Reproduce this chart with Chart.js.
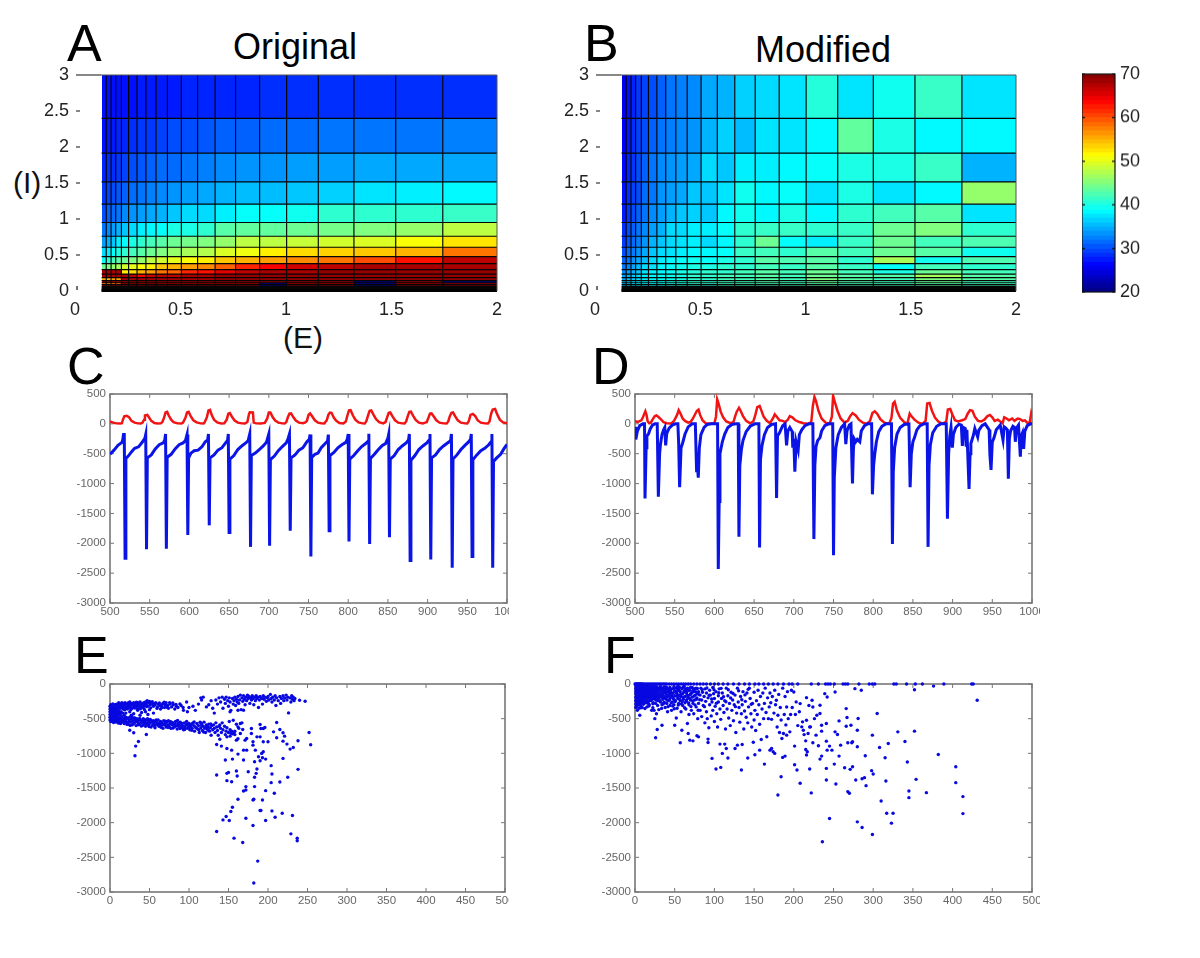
<!DOCTYPE html>
<html>
<head>
<meta charset="utf-8">
<title>Original vs Modified</title>
<script src="https://cdn.jsdelivr.net/npm/chart.js@4"></script>
<style>
  html, body { margin: 0; padding: 0; background: #fff; }
  body { position: relative; width: 1200px; height: 958px; overflow: hidden; font-family: "Liberation Sans", Arial, sans-serif; }
  canvas { position: absolute; }
  #chartC, #chartD, #chartE, #chartF { filter: blur(0.4px); }
  .t { position: absolute; line-height: 1; color: #000; white-space: nowrap; }
  .letter { font-size: 52px; }
  .title { font-size: 36px; }
  .axisname { font-size: 30px; color: #111; }
</style>
</head>
<body>
<div class="t letter" style="left:67px;top:17px">A</div>
<div class="t letter" style="left:584px;top:17px">B</div>
<div class="t letter" style="left:67px;top:340px">C</div>
<div class="t letter" style="left:592px;top:340px">D</div>
<div class="t letter" style="left:74px;top:629px">E</div>
<div class="t letter" style="left:604px;top:629px">F</div>
<div class="t title" style="left:233px;top:29px">Original</div>
<div class="t title" style="left:755px;top:32px">Modified</div>
<div class="t axisname" style="left:13px;top:168px">(I)</div>
<div class="t axisname" style="left:283px;top:323px">(E)</div>
<canvas id="chartA"></canvas>
<canvas id="chartB"></canvas>
<canvas id="chartBar"></canvas>
<canvas id="chartC"></canvas>
<canvas id="chartD"></canvas>
<canvas id="chartE"></canvas>
<canvas id="chartF"></canvas>
<script>
// cell edges of the two maps
const eEdges = [0.126,0.148,0.171,0.193,0.22,0.254,0.294,0.336,0.384,0.438,0.504,0.581,0.664,0.761,0.875,1.003,1.153,1.322,1.52,1.743,2];
const iEdges = [3,2.397,1.915,1.516,1.206,0.951,0.76,0.607,0.478,0.38,0.297,0.235,0.185,0.145,0.115,0.09,0.07,0.055,0.04,0.03,0.02,0];

// rate values, top row first
const originalMap = [
  [27,27,27,27,27,27,27.5,27.5,27.5,27.5,28,28,28,28,28.5,28.5,28.5,28.5,28.5,28.5],
  [27,27.5,27.5,28,28,28.5,29,29,29.5,30,30,30.5,31,31,31.5,31.5,32,32,32,32.5],
  [28,28.5,28.5,29,29.5,30,30.5,31,31.5,31.5,32,32.5,33,33.5,33.5,34,34,34.5,34.5,34.5],
  [29,29.5,30,30.5,31,31.5,32,32.5,33,33.5,34,34.5,35,35.5,35.5,36,36.5,37.5,38,38.5],
  [30,31,31.5,32,33,33.5,34,34.5,35,36,37,37,38,39,39,39.5,41,41,41,41.5],
  [32,33,34,35,36,37,38,38.5,39,40,40,41,43,43.5,43.5,44,44.5,45,46,48],
  [34,35,36,38,39,40,41,42,43,44,44.5,45,46,48,48,48.5,49,49.5,51,52.5],
  [37,38,39,40,41,42,43,44,45,46,47,47.5,49.5,50.5,52,53,53.5,54,55,58],
  [39,41,42,43,44,45,46,48,49,50,51,52,54,55,56,57,58,60,63,67],
  [44,45,46,47,49,50,51,52,54,55,56,57,59,62,64,66,67,68,68,68],
  [68,68,68,68,52,53,55,56,58,59,62,63,65,67,68,68,69,69,69,69],
  [68,68,68,68,68,67,64,66,67,67,68,68,69,69,69,69,69,69,69,69],
  [55,55,56,56,68,68,68,68,68,68,68,68,69,69,69,69,69,69,69,69],
  [68,68,68,68,69,69,69,69,69,69,69,69,69,69,69,69,69,20,69,20],
  [57,57,58,58,69,69,69,69,69,69,69,69,69,69,20,69,69,20,69,69],
  [69,69,69,69,69,69,69,69,69,69,69,69,69,69,20,69,69,20,69,69],
  [58,58,60,60,69,69,69,69,69,69,69,69,69,69,20,69,69,69,69,69],
  [69,69,69,69,69,69,69,69,69,69,69,69,69,69,69,69,69,69,69,69],
  [69,69,69,69,69,69,69,69,69,69,69,69,69,69,69,69,69,69,69,69],
  [70,70,70,70,70,70,70,70,70,70,70,70,70,70,70,70,70,70,70,70],
  [70,70,70,70,70,70,70,70,70,70,70,70,70,70,70,70,70,70,70,70]
];
const modifiedMap = [
  [25.5,27,28,29,29.5,30,31,32,32.5,33,34.5,35,36.5,37,37.5,40.5,37.5,39.5,41.5,37.5],
  [26,27.5,28.5,29.5,30,31,32,32.5,33,33.5,35,36.5,35.5,37.5,37.5,38.5,43.5,40,38.5,38.5],
  [26.5,28,29,30,31,32,33,33.5,34,34.5,37,36,38,38,38.5,39,40,40,41.5,35],
  [27,28.5,29.5,30,31.5,32,33.5,34,34.5,36,36,37.5,39.5,38.5,39,37.5,40,37.5,38.5,46],
  [27.5,29,30,31,32,33,34,35,36,36.5,36,38.5,39.5,38.5,40,38.5,41,42,43,37.5],
  [28.5,30,31,32,33,34,35,37,37,38,38,39,41,41.5,41.5,41,41.5,44,45,41],
  [29,30.5,31.5,32.5,33.5,35,36,37,37.5,38,37,38.5,41,44,39,38,41.5,44,42,42.5],
  [30,31.5,32.5,33.5,34.5,36,37,37.5,38,38.5,38.5,39,41.5,42,41,43,42,44,43,39.5],
  [31,32,33.5,34.5,35.5,37,38,38.5,39,39.5,39,40,41,43,42.5,43,41,47,39.5,42.5],
  [32,33,34.5,35.5,37,37.5,38.5,39,39.5,40,40,41,41,42,41.5,43,41.5,39,42,41],
  [33,34,35,36,37.5,38,38.5,39,40,40.5,41,41,42,43,42,44,42,40,44,42],
  [34,35,36,37,38,38.5,39,39.5,40,41,41,42,42,43,42,44,43,43,47,43],
  [34.5,35.5,36.5,37,38,38.5,39,39.5,40,41,41,42,42,43,42,45,43,42,45,43],
  [35,36,37,37.5,38,38.5,39,40,40,41,41,42,42,43,42,44,43,42,44,42],
  [35,36,37,38,38.5,39,39.5,40,40.5,41,41,42,42,42,42,43,42,42,43,42],
  [35.5,36.5,37,38,38.5,39,39.5,40,40.5,41,41,41.5,42,42,42,43,42,42,43,42],
  [36,37,37.5,38,38.5,39,40,40,41,41,41,41.5,42,42,42,42,42,42,42,42],
  [36,37,37.5,38,39,39,40,40,41,41,41,41.5,42,42,42,42,42,42,42,42],
  [36,37,38,38,39,39,40,40,41,41,41,41.5,42,42,42,42,42,42,42,42],
  [36,37,38,38,39,39,40,40,41,41,41,41.5,42,42,42,42,42,42,42,42],
  [36,37,38,38,39,39,40,40,41,41,41,41.5,42,42,42,42,42,42,42,42]
];

// colour bar
const barEdges = [70,69,68,67,66,65,64,63,62,61,60,59,58,57,56,55,54,53,52,51,50,49,48,47,46,45,44,43,42,41,40,39,38,37,36,35,34,33,32,31,30,29,28,27,26,25,24,23,22,21,20];
const barLevels = [69.5,68.5,67.5,66.5,65.5,64.5,63.5,62.5,61.5,60.5,59.5,58.5,57.5,56.5,55.5,54.5,53.5,52.5,51.5,50.5,49.5,48.5,47.5,46.5,45.5,44.5,43.5,42.5,41.5,40.5,39.5,38.5,37.5,36.5,35.5,34.5,33.5,32.5,31.5,30.5,29.5,28.5,27.5,26.5,25.5,24.5,23.5,22.5,21.5,20.5];

// panel C traces
const originalBlue = [
  [500,-510],[505,-440],[510,-360],[515,-310],[516,-270],[517,-180],[518,-180],[519,-2250],[520,-580],[523,-540],[527,-470],[531,-410],[536,-385],[541,-300],[544,-240],[545,-180],[546,-2100],[547,-570],[552,-520],[557,-420],[562,-350],[567,-320],[569,-270],[570,-170],[571,-2090],[572,-560],[577,-510],[582,-420],[587,-350],[592,-320],[595,-280],[597,-180],
  [598,-1860],[599,-570],[602,-490],[606,-450],[611,-440],[616,-380],[620,-300],[623,-270],[624,-170],[625,-1700],[626,-570],[631,-520],[636,-440],[641,-400],[646,-310],[648,-280],[649,-170],[650,-1820],[651,-590],[656,-530],[661,-430],[666,-370],[671,-320],[674,-280],[676,-170],[677,-2060],[678,-530],[683,-490],[688,-430],[693,-370],[697,-310],[700,-170],
  [701,-2040],[702,-600],[707,-540],[712,-450],[717,-380],[722,-320],[724,-260],[726,-170],[727,-1790],[728,-570],[733,-520],[738,-440],[743,-400],[748,-300],[751,-260],[752,-180],[753,-2220],[754,-560],[758,-510],[762,-490],[766,-400],[771,-330],[774,-290],[775,-180],[776,-1790],[777,-530],[782,-480],[787,-400],[792,-350],[797,-310],[799,-250],[800,-170],
  [801,-1970],[802,-590],[807,-530],[812,-450],[817,-380],[822,-330],[825,-290],[826,-165],[827,-2010],[828,-580],[833,-510],[838,-430],[843,-360],[847,-330],[850,-240],[851,-175],[852,-1900],[853,-590],[858,-530],[863,-430],[868,-370],[873,-320],[876,-270],[877,-170],[878,-2290],[879,-610],[884,-530],[889,-430],[894,-370],[899,-320],[902,-270],[903,-170],
  [904,-2270],[905,-570],[910,-520],[915,-430],[920,-370],[925,-320],[929,-280],[930,-170],[931,-2410],[932,-590],[937,-520],[942,-430],[947,-360],[951,-310],[954,-260],[955,-170],[956,-2220],[957,-600],[962,-520],[967,-450],[972,-410],[977,-350],[980,-300],[981,-170],[982,-2410],[983,-630],[987,-570],[992,-510],[996,-420],[1000,-345]
];
const originalRed = [
  [500,40],[504,20],[508,8],[513,5],[515,10],[516,60],[518,125],[521,135],[524,110],[527,50],[531,20],[535,8],[539,5],[541,20],[543,70],[544,140],[547,150],[549,110],[552,50],[556,15],[560,5],[564,8],[566,30],[568,100],[570,190],[572,200],[574,140],[577,70],[580,30],[585,8],[590,5],
  [592,20],[595,100],[597,190],[599,200],[602,120],[605,60],[609,25],[614,8],[618,5],[619,20],[622,110],[624,225],[626,235],[628,150],[631,70],[635,25],[640,8],[644,10],[647,70],[649,170],[651,180],[654,110],[657,55],[661,20],[666,8],[670,5],[673,30],[675,160],[676,195],[680,190],[681,20],[684,8],[690,5],
  [695,15],[698,90],[700,190],[702,190],[705,110],[708,55],[712,20],[717,8],[720,5],[722,30],[724,110],[726,170],[728,175],[731,110],[734,55],[738,20],[743,10],[746,25],[748,50],[750,150],[752,175],[755,120],[758,60],[762,20],[766,10],[770,8],[773,60],[775,150],[777,190],[779,185],[782,100],[785,50],[789,15],[794,8],
  [797,40],[799,140],[801,225],[803,230],[806,140],[809,70],[813,25],[818,8],[821,5],[823,50],[825,140],[827,220],[829,225],[832,150],[835,80],[839,30],[844,8],[847,30],[849,110],[851,185],[853,190],[856,120],[859,60],[863,20],[868,8],[871,5],[873,40],[875,130],[877,200],[879,205],[882,130],[885,65],[889,20],[894,8],
  [899,30],[901,100],[903,170],[905,175],[908,120],[911,60],[915,20],[920,8],[924,5],[926,40],[928,130],[930,185],[932,190],[935,120],[938,60],[942,20],[947,8],[950,5],[952,50],[954,150],[957,165],[960,130],[963,60],[967,20],[972,8],[976,5],[978,40],[980,170],[982,240],[985,250],[988,150],[991,70],[995,25],[1000,8]
];

// panel D traces
const modifiedBlue = [
  [500,-50],[501,-260],[503,-120],[506,-30],[510,0],[512,0],[512.6,-1250],[514,-400],[515,-200],[517,-170],[519,-90],[522,-20],[525,0],[528,0],[529.4,-1220],[531,-500],[532,-350],[534,-180],[536,-100],[537.5,-60],[538.6,-360],[540,-160],[543,-70],[547,-20],[551,0],[554,0],[555,-330],[556.2,-1060],[558,-400],[560,-320],[563,-170],[567,-50],[572,0],[576,0],
  [577.6,-810],[578.6,-700],[579.7,-900],[581,-400],[583,-180],[587,-60],[591,-10],[596,0],[604,0],[604.9,-2430],[606,-1300],[607,-500],[610,-300],[613,-170],[617,-60],[622,-10],[627,0],[630,0],[630.9,-1890],[632,-700],[634,-430],[636,-280],[640,-130],[645,-40],[651,0],[656,0],[656.9,-2070],[658,-600],[660,-360],[663,-180],[667,-60],[672,-10],[677,0],
  [678.3,-1240],[679.5,-200],[682,-150],[686,-30],[689,0],[690.9,-360],[692.5,-120],[695,-60],[698,-130],[698.7,-400],[700,-250],[701.3,-800],[703,-300],[705.5,-440],[707,-180],[710,-100],[714,-30],[719,0],[724,0],[725.3,-1930],[726.5,-700],[728,-380],[730,-280],[733,-230],[735,-120],[739,-30],[744,0],[749,0],[750,-2200],[751,-900],[753,-400],[756,-180],[760,-60],[764,0],
  [765.5,-340],[767,-120],[770,-20],[772,0],[773.9,-1000],[775,-450],[776,-250],[778,-300],[780,-260],[783.1,-300],[785,-120],[789,-30],[793,0],[798,0],[799,-1180],[800.5,-700],[802,-500],[804,-300],[807,-130],[811,-40],[816,0],[823,0],[824.2,-2010],[825.3,-800],[827,-400],[830,-170],[834,-60],[839,-10],[845,0],[846.5,-1060],[848,-500],[850,-300],[852,-230],[855,-100],[859,-30],[864,0],[868,0],
  [869.1,-2060],[870.3,-700],[872,-350],[875,-150],[880,-40],[885,0],[892,0],[893.5,-1590],[895,-500],[896.5,-200],[898,-60],[899.7,-400],[901,-180],[904,-60],[908,-5],[911,-20],[912.3,-370],[913.5,-60],[916,-80],[917,-360],[918,-100],[920.7,-1090],[922,-500],[923,-330],[926,-200],[928,-80],[931.6,-220],[933,-110],[937,-30],[941,0],[946,-100],[947,-520],[948.4,-770],[950,-300],[952,-240],[955,-100],[960,-20],
  [963.5,-270],[965,-50],[967,-70],[969,-100],[970.2,-920],[971.5,-250],[973,-120],[976,-40],[978,-60],[979,-300],[980.5,-70],[983,-20],[985.3,-550],[986.5,-200],[988,-150],[989.5,-420],[991,-120],[994,-30],[998,0],[1000,0]
];
const modifiedRed = [
  [500,50],[503,30],[505,40],[508,60],[510,110],[512,180],[513,210],[514.5,150],[516,40],[518,10],[520,20],[522,70],[525,130],[527,140],[530,110],[533,70],[536,30],[540,10],[545,5],[548,30],[550,70],[553,150],[555,230],[557,180],[560,90],[563,50],[567,20],[570,30],[573,90],[576,170],[578,220],[580,240],[582,150],[585,60],[589,10],[595,0],
  [600,10],[602,120],[603.5,410],[605,350],[608,200],[611,110],[615,40],[620,10],[624,30],[626,120],[628,200],[631,270],[633,220],[636,130],[640,50],[645,10],[649,40],[651,120],[654,280],[657,300],[659,230],[662,120],[666,50],[670,10],[674,100],[676,160],[679,110],[682,60],[686,50],[689,30],[692,60],[695,130],[698,110],[702,60],[707,30],[712,10],[718,0],
  [722,30],[724,300],[726,450],[728,380],[731,220],[735,90],[740,20],[745,0],[748,120],[749.5,470],[752,350],[755,220],[759,90],[764,20],[768,50],[771,130],[774,180],[778,140],[782,70],[787,20],[792,0],[796,50],[799,180],[802,210],[805,170],[809,80],[814,20],[820,0],[823,100],[825,340],[827,370],[830,220],[834,100],[839,30],[843,0],
  [846,170],[848,130],[852,70],[857,20],[862,0],[866,50],[868,340],[871,350],[874,220],[878,100],[882,40],[887,0],[892,40],[894,240],[897,250],[900,150],[903,60],[907,40],[912,60],[916,80],[919,170],[922,230],[925,220],[928,120],[932,50],[936,40],[940,70],[944,130],[947,150],[950,110],[953,50],[957,70],[960,40],[963,10],[965,110],[968,90],[971,60],[975,90],[978,50],[982,90],[985,80],[988,50],[991,60],[994,20],[997,20],[999,180],[1000,130]
];

// panel E points
const originalScatter = [
  [5,-340],[6,-300],[7,-360],[8,-290],[9,-330],[10,-300],[10,-360],[11,-270],[12,-320],[13,-290],[13,-350],[14,-310],[15,-270],[16,-330],[17,-290],[17,-360],[18,-310],[19,-270],[20,-340],[21,-300],[22,-280],[22,-360],[23,-320],[24,-290],[25,-260],[25,-340],[26,-310],[27,-280],[28,-350],[29,-300],[30,-270],[30,-330],[31,-310],[32,-280],[33,-340],[34,-300],[35,-270],[35,-360],[36,-320],[37,-290],[38,-260],[39,-330],[40,-300],[41,-280],[42,-340],[43,-270],[44,-310],[45,-260],[46,-290],[47,-240],[48,-320],[49,-270],[50,-250],[51,-300],[52,-270],[54,-290],[55,-320],[57,-300],[58,-270],[60,-330],[61,-290],[63,-310],[64,-360],[66,-300],[67,-280],[69,-340],[70,-300],[71,-270],[73,-310],[74,-350],[76,-290],[78,-330],[80,-300],[82,-360],[84,-320],[86,-340],[90,-310],[93,-380],[97,-260],[98,-400],[100,-340],
  [20,-420],[25,-400],[30,-430],[35,-380],[40,-410],[45,-400],[50,-370],[27,-450],[38,-450],[48,-440],[55,-420],
  [0,-320],[0,-360],[0,-400],[0,-440],[0,-480],[0,-520],[1,-300],[1,-340],[1,-380],[1,-420],[1,-460],[1,-500],[1,-540],[2,-320],[2,-360],[2,-400],[2,-440],[2,-480],[2,-520],[3,-340],[3,-380],[3,-420],[3,-460],[3,-500],[3,-540],[4,-360],[4,-400],[4,-440],[4,-480],[4,-520],[5,-380],[5,-420],[5,-460],[5,-500],[6,-400],[6,-440],[6,-480],[6,-530],[7,-420],[7,-460],[7,-510],[8,-390],[8,-440],[8,-490],[8,-540],[9,-410],[9,-470],[9,-520],[10,-430],[10,-500],[11,-390],[11,-450],[11,-530],[12,-410],[12,-490],[13,-440],[13,-520],[14,-400],[15,-470],[15,-540],[16,-420],[17,-500],[18,-450],[19,-530],[20,-480],
  [12,-560],[14,-490],[16,-530],[18,-570],[20,-510],[21,-550],[22,-490],[23,-580],[24,-520],[25,-480],[26,-550],[27,-510],[28,-590],[29,-530],[30,-490],[31,-560],[32,-520],[33,-600],[34,-500],[35,-550],[36,-530],[37,-580],[38,-510],[39,-560],[40,-530],[41,-600],[42,-500],[43,-570],[44,-540],[45,-610],[46,-520],[47,-560],[48,-590],[49,-530],[50,-570],[51,-510],[52,-620],[53,-550],[54,-590],[55,-530],[56,-570],[57,-630],[58,-540],[59,-590],[60,-560],[61,-520],[62,-610],[63,-570],[64,-540],[65,-600],[66,-560],[67,-640],[68,-530],[69,-590],[70,-570],[71,-620],[72,-550],[73,-590],[74,-530],[75,-610],[76,-570],[77,-640],[78,-550],[79,-590],[80,-560],[81,-620],[82,-580],[83,-540],[84,-600],[85,-650],[86,-570],[87,-610],[88,-590],[89,-550],[90,-630],[91,-570],[92,-600],[93,-660],[94,-560],[95,-620],[96,-590],[97,-540],[98,-640],[99,-600],[100,-570],[101,-660],[102,-610],[103,-580],[104,-640],[105,-560],[106,-600],[107,-680],[108,-620],[110,-570],[111,-650],[112,-600],[113,-700],[114,-550],[115,-630],[116,-590],[117,-670],[118,-610],[119,-550],[120,-640],[121,-700],[122,-590],[123,-650],[124,-620],[125,-580],[126,-680],[127,-630],[128,-740],[129,-600],[130,-660],[131,-590],[132,-640],[133,-700],[134,-560],[135,-620],[136,-670],[137,-740],[138,-610],[139,-590],[140,-640],[141,-700],[142,-560],[143,-660],[145,-610],[146,-730],[147,-680],[148,-630],[150,-700],[151,-540],[152,-660],[153,-710],[154,-680],[155,-720],[157,-700],[158,-730],[160,-580],[163,-640],
  [105,-320],[108,-380],[112,-290],[115,-200],[116,-230],[118,-190],[122,-330],[125,-300],[128,-240],[130,-350],[132,-420],[134,-230],[136,-290],[138,-200],[140,-260],[142,-190],[143,-350],[145,-220],[146,-280],[147,-190],[149,-240],[150,-320],[151,-200],[152,-260],[153,-380],[155,-210],[156,-290],[157,-240],[158,-190],[159,-310],[160,-220],[161,-260],[162,-180],[163,-280],[164,-230],[165,-160],[166,-370],[167,-200],[168,-250],[169,-170],[170,-220],[171,-300],[172,-190],[173,-240],[174,-160],[175,-210],[176,-180],[177,-280],[178,-200],[179,-230],[180,-170],[181,-210],[182,-300],[183,-190],[184,-240],[185,-170],[186,-210],[187,-190],[188,-340],[189,-230],[190,-180],[192,-210],[193,-290],[194,-170],[195,-220],[196,-190],[198,-250],[199,-200],[200,-180],[201,-230],[203,-150],[204,-210],[205,-260],[206,-190],[208,-230],[209,-170],[210,-310],[211,-200],[213,-240],[215,-180],[216,-280],[217,-210],[219,-170],[220,-240],[221,-200],[223,-160],[224,-230],[225,-190],[226,-417],[228,-200],[229,-260],[230,-170],[231,-220],[232,-190],[233,-240],[234,-210],[240,-235],[247,-249],[169,-378],[162,-378],[152,-402],
  [32.5,-896],[36,-829],[31.6,-1035],[46,-728],[30,-704],[25,-666],[135,-1313],[148,-1289],[150,-1275],[148,-1394],[154,-1409],[160,-1255],[161,-1327],[146,-1097],[155,-1083],[162,-1011],[169,-1097],[175,-1265],[183,-1121],[186,-1227],[185,-1289],[183,-1346],[172,-1480],[172,-1528],[169,-1543],[183,-1480],[197,-1538],[208,-1576],[162,-1663],[181,-1672],[182,-1663],[193,-1672],[155,-1778],[153,-1840],[147,-1912],[143,-1960],[151,-1969],[172,-1936],[190,-1825],[191,-1825],[205,-1830],[209,-1921],[197,-1969],[218,-1864],[231,-1897],[181,-2041],[135,-2127],[157,-2223],[168,-2285],[229,-2161],[237,-2223],[237,-2261],[187,-2554],[182,-2870],[238,-1231],[225,-1346],[215,-1413],[204,-1423],[205,-1298],[204,-1178],[197,-1083],[193,-1063],[188,-1049],[190,-1107],[219,-1073],[194,-977],[192,-1001],[219,-824],[224,-867],[228,-939],[232,-915],[238,-819],[252,-700],[254,-877],[207,-690],[211,-556],[215,-656],[211,-776],[219,-704],[221,-752],[190,-585],[194,-642],[191,-642],[196,-628],[179,-642],[179,-714],[186,-762],[190,-762],[200,-834],[194,-834],[181,-834],[173,-786],[171,-810],[184,-954],[173,-954],[169,-954],[181,-882],[162,-790],[160,-810],[154,-954],[148,-930],[141,-896],[135,-872],[139,-796],[148,-762],[152,-752],[158,-680],[165,-714],[168,-656],[162,-618],[156,-522],[165,-570],[167,-560]
];
// denser parts of the two bands in panel E
const originalBands = [
  [3.5,-287],[6.5,-318],[8.5,-351],[11.5,-304],[14.5,-343],[16.5,-283],[18.5,-372],[21.5,-329],[23.5,-268],[26.5,-367],[28.5,-296],[31.5,-347],[33.5,-262],[36.5,-294],[38.5,-356],[41.5,-313],[43.5,-366],[46.5,-327],[48.5,-261],[51.5,-344],[53.5,-256],[56.5,-279],[59.5,-352],[62.5,-274],[65.5,-338],[68.5,-263],[72.5,-336],[75.5,-268],[79.5,-273],[83.5,-295],[88.5,-287],[92.5,-338],
  [4.5,-557],[7.5,-549],[10.5,-562],[13.5,-571],[15.5,-503],[17.5,-553],[19.5,-491],[21.5,-583],[23.5,-549],[25.5,-597],[27.5,-476],[29.5,-573],[31.5,-491],[33.5,-538],[35.5,-587],[37.5,-497],[39.5,-607],[41.5,-548],[43.5,-512],[45.5,-568],[47.5,-502],[49.5,-613],[52.5,-528],[55.5,-603],[58.5,-517],[61.5,-577],[64.5,-623],[67.5,-586],[70.5,-536],[73.5,-627],[76.5,-544],[79.5,-637],[82.5,-611],[85.5,-527],[88.5,-643],[91.5,-627],[94.5,-657],[97.5,-583],[100.5,-623],[103.5,-667],[106.5,-547],[109.5,-637],[112.5,-658],[115.5,-567],[118.5,-693],[121.5,-617],[124.5,-668],[127.5,-577]
];

// panel F points
const modifiedScatter = [
  [0,0],[1,0],[2,0],[3,0],[4,0],[5,0],[6,0],[7,0],[8,0],[9,0],[10,0],[12,0],[14,0],[16,0],[18,0],[20,0],[22,0],[24,0],[26,0],[28,0],[30,0],[32,0],[34,0],[36,0],[38,0],[40,0],[43,0],[46,0],[49,0],[52,0],[55,0],[58,0],[61,0],[64,0],[67,0],[70,0],[74,0],[78,0],[82,0],[86,0],[90,0],[95,0],[100,0],[105,0],[111,0],[117,0],[124,0],[131,0],[138,0],[144,0],[151,0],[156,0],[162,0],[168,0],[174,0],[180,0],[187,0],[194,0],[198,0],[205,0],[222,0],[231,0],[240,0],[243,0],[246,0],[251,0],[262,0],[265,0],[268,0],[282,0],[295,0],[299,0],[302,0],[326,0],[329,0],[342,0],[353,0],[362,0],[389,0],[424,0],[426,0],
  [1,-20],[1,-60],[1,-100],[1,-140],[1,-190],[1,-240],[1,-290],[1,-340],[2,-40],[2,-80],[2,-120],[2,-170],[2,-220],[2,-270],[2,-320],[3,-30],[3,-70],[3,-110],[3,-150],[3,-210],[3,-260],[3,-380],[4,-50],[4,-90],[4,-130],[4,-180],[4,-240],[4,-300],[5,-30],[5,-70],[5,-110],[5,-160],[5,-200],[5,-280],[5,-350],[6,-50],[6,-90],[6,-130],[6,-190],[6,-250],[6,-450],[7,-30],[7,-80],[7,-120],[7,-170],[7,-230],[7,-310],[8,-50],[8,-100],[8,-150],[8,-210],[8,-270],[9,-30],[9,-70],[9,-130],[9,-180],[9,-250],[9,-340],
  [10,-50],[10,-100],[10,-160],[10,-220],[11,-30],[11,-80],[11,-130],[11,-190],[11,-280],[12,-60],[12,-110],[12,-170],[12,-240],[13,-40],[13,-90],[13,-150],[13,-210],[14,-70],[14,-130],[14,-190],[14,-270],[15,-40],[15,-100],[15,-160],[15,-330],[16,-70],[16,-130],[16,-210],[17,-40],[17,-100],[17,-170],[17,-250],[18,-70],[18,-140],[18,-300],[19,-40],[19,-110],[19,-190],[20,-80],[20,-150],[20,-240],[21,-40],[21,-110],[21,-180],[21,-380],[22,-70],[22,-140],[22,-220],[23,-40],[23,-110],[23,-270],[24,-80],[24,-170],[24,-380],[25,-40],[25,-120],[25,-210],[25,-500],[26,-80],[26,-150],[26,-280],[26,-776],[27,-40],[27,-190],[27,-430],[28,-100],[28,-170],[28,-656],[29,-60],[29,-240],[30,-130],[30,-200],[30,-370],[31,-70],[31,-160],[32,-40],[32,-260],[33,-110],[33,-190],[34,-70],[34,-594],[34,-300],[35,-150],[35,-220],[36,-50],[36,-110],[37,-180],[37,-270],[38,-80],[38,-340],[39,-140],[39,-210],[40,-50],[40,-110],[40,-280],[41,-180],[41,-400],[42,-80],[42,-240],[43,-140],[44,-50],[44,-200],[44,-310],[45,-110],[46,-170],[46,-380],[47,-70],[47,-260],[48,-130],[48,-210],[49,-40],[49,-300],[50,-594],[50,-100],[50,-170],[51,-240],[52,-60],[52,-490],[53,-140],[53,-350],[54,-80],[54,-210],[55,-170],[55,-280],[56,-50],[57,-848],[57,-110],[57,-240],[58,-180],[58,-400],[59,-666],[59,-70],[60,-140],[60,-310],[61,-220],[62,-40],[62,-100],[63,-180],[63,-270],[64,-360],[65,-130],[65,-230],[66,-570],[66,-60],[67,-714],[67,-170],[68,-300],[68,-440],[69,-810],[69,-90],[70,-230],[70,-140],[71,-380],[72,-50],[72,-190],[73,-820],[73,-280],[74,-110],[74,-430],[75,-230],[76,-160],[77,-60],[77,-330],[78,-747],[78,-200],[79,-500],[80,-762],[80,-110],[80,-280],[82,-160],[82,-380],[83,-60],[84,-230],[84,-470],[85,-120],[86,-310],[87,-180],[88,-560],[88,-70],[89,-250],[90,-400],[90,-130],[91,-500],[92,-843],[92,-795],[92,-200],[93,-630],[94,-90],[94,-300],[95,-160],[96,-460],[97,-1073],[97,-260],[98,-50],[98,-380],[99,-140],[100,-210],[100,-540],[101,-320],[102,-1227],[102,-110],[103,-430],[104,-620],[105,-170],[105,-260],[106,-70],[107,-867],[107,-360],[108,-1203],[108,-510],[109,-210],[110,-1001],[110,-130],[111,-310],[112,-410],[113,-867],[113,-240],[114,-650],[115,-930],[115,-60],[116,-360],[117,-1068],[117,-170],[118,-490],[119,-280],[120,-600],[121,-120],[122,-380],[123,-230],[124,-530],[125,-300],[126,-930],[126,-160],[127,-700],[128,-420],[129,-882],[129,-60],[130,-260],[131,-340],[132,-550],[133,-180],[134,-1241],[134,-430],[135,-872],[135,-300],[136,-110],[137,-650],[138,-390],[139,-250],[140,-480],[141,-130],[142,-1068],[142,-560],[143,-330],[144,-60],[145,-210],[146,-430],[147,-620],[148,-280],[149,-840],[150,-120],[150,-520],[151,-1020],[151,-380],[152,-670],[153,-240],[154,-440],[155,-90],[156,-300],[157,-954],[157,-580],[158,-180],[159,-800],[160,-360],[161,-130],[162,-500],[163,-1155],[163,-280],[164,-60],[165,-410],[166,-760],[167,-200],[168,-500],[169,-330],[170,-954],[170,-130],[171,-270],[172,-930],[172,-510],[173,-180],[174,-977],[175,-420],[176,-1001],[176,-90],[177,-300],[178,-235],[179,-620],[180,-1600],[180,-450],[181,-150],[182,-700],[183,-340],[184,-1337],[184,-520],[185,-786],[186,-1059],[186,-60],[187,-714],[188,-440],[189,-1040],[189,-180],[190,-590],[191,-738],[191,-331],[192,-110],[193,-500],[195,-690],[196,-440],[197,-91],[198,-340],[200,-115],[201,-1164],[201,-896],[202,-440],[203,-258],[204,-1241],[205,-600],[207,-400],[208,-1432],[208,-283],[210,-618],[211,-546],[212,-666],[213,-730],[215,-820],[215,-944],[216,-1025],[216,-197],[216,-522],[217,-977],[218,-714],[219,-310],[220,-1227],[220,-620],[221,-618],[222,-1571],[223,-235],[224,-848],[224,-331],[226,-500],[228,-738],[229,-450],[231,-891],[233,-1083],[233,-426],[233,-307],[235,-594],[235,-680],[235,-1040],[236,-2276],[239,-139],[241,-824],[241,-1217],[241,-1385],[241,-570],[242,-954],[242,-187],[245,-1940],[245,-896],[248,-954],[251,-1155],[252,-690],[252,-115],[253,-1442],[255,-728],[257,-1040],[257,-532],[259,-882],[264,-1207],[266,-355],[267,-484],[266,-609],[268,-848],[268,-1552],[270,-1576],[271,-1231],[272,-594],[273,-848],[274,-834],[274,-1193],[277,-67],[278,-1385],[280,-906],[280,-666],[280,-1988],[281,-498],[285,-91],[286,-1366],[286,-2070],[289,-1351],[290,-1035],[291,-1466],[298,-1250],[299,-738],[299,-2170],[300,-1299],[305,-426],[308,-915],[310,-1687],[315,-1064],[316,-1399],[317,-1864],[319,-858],[323,-2007],[325,-1864],[331,-690],[340,-829],[343,-1126],[345,-1543],[345,-1639],[352,-680],[352,-82],[354,-1375],[367,-1567],[376,-30],[382,-1016],[404,-1193],[404,-1423],[413,-1624],[413,-1869],[431,-235]
];
// dense corner of panel F
const modifiedCluster = [
  [3.5,-47],[5.5,-133],[6.5,-212],[8.5,-78],[9.5,-163],[10.5,-291],[11.5,-58],[12.5,-204],[13.5,-121],[14.5,-247],[15.5,-73],[16.5,-172],[17.5,-318],[18.5,-103],[19.5,-226],[20.5,-57],[21.5,-148],[22.5,-285],[23.5,-92],[24.5,-197],[25.5,-66],[26.5,-233],[27.5,-127],[28.5,-311],[29.5,-84],[30.5,-163],[31.5,-241],[32.5,-98],[33.5,-352],[34.5,-186],[35.5,-77],[36.5,-264],[37.5,-123],[38.5,-208],[39.5,-61],[40.5,-167],[41.5,-327],[42.5,-113],[43.5,-229],[44.5,-88],[45.5,-272],[46.5,-146],[47.5,-193],[48.5,-68],[49.5,-358],[50.5,-254],[51.5,-119],[52.5,-176],[53.5,-44],[54.5,-302],[55.5,-93],[56.5,-223],[57.5,-149],[58.5,-287],[59.5,-58],[60.5,-192],[61.5,-118],[62.5,-343],[63.5,-76],[64.5,-248],[65.5,-161],[66.5,-97],[67.5,-272],[68.5,-207],[69.5,-52],[70.5,-326],[71.5,-131],[72.5,-243],[73.5,-83],[74.5,-174],[75.5,-301],[76.5,-112],[77.5,-221],[78.5,-64],[79.5,-378],[80.5,-153],
  [2.5,-143],[4.5,-267],[6.5,-63],[7.5,-343],[9.5,-213],[11.5,-97],[12.5,-353],[14.5,-33],[16.5,-277],[18.5,-187],[20.5,-113],[22.5,-343],[24.5,-57],[26.5,-117],[28.5,-227],[31.5,-47],[33.5,-147],[35.5,-287],[37.5,-43],[40.5,-233],[42.5,-167],[44.5,-123],[47.5,-317],[49.5,-227],[52.5,-107],[54.5,-37],[56.5,-173],[59.5,-253],[61.5,-37],[64.5,-103],[66.5,-203],[69.5,-157],[72.5,-107],[75.5,-67],[78.5,-137],[81.5,-227],[84.5,-83],[87.5,-327],[90.5,-57],[93.5,-163],[96.5,-217],[99.5,-83],[102.5,-277],[105.5,-127],[108.5,-63],[111.5,-183],[114.5,-257],[117.5,-83],[120.5,-203],[123.5,-137],[126.5,-327],[130.5,-97],[134.5,-227],[138.5,-157],[142.5,-77],[146.5,-293]
];

// tick labels
const mapETicks = [0,0.5,1,1.5,2];
const mapITicks = [0,0.5,1,1.5,2,2.5,3];
const barTicks = [20,30,40,50,60,70];
const traceXTicks = [500,550,600,650,700,750,800,850,900,950,1000];
const scatterXTicks = [0,50,100,150,200,250,300,350,400,450,500];
const valueTicks = [-3000,-2500,-2000,-1500,-1000,-500,0,500];
const scatterYTicks = [-3000,-2500,-2000,-1500,-1000,-500,0];

// jet colormap over the 20..70 range
function jet(v) {
  let t = (v - 20) / 50;
  let ramp = (x) => Math.max(0, Math.min(1, x));
  let r = ramp(Math.min(4 * t - 1.5, -4 * t + 4.5));
  let g = ramp(Math.min(4 * t - 0.5, -4 * t + 3.5));
  let b = ramp(Math.min(4 * t + 0.5, -4 * t + 2.5));
  return `rgb(${Math.round(r * 255)},${Math.round(g * 255)},${Math.round(b * 255)})`;
}

function buildCells(xEdges, yEdges, rows) {
  let cells = [];
  rows.forEach((row, i) => {
    row.forEach((v, j) => {
      cells.push({
        x: (xEdges[j] + xEdges[j + 1]) / 2,
        y: (yEdges[i] + yEdges[i + 1]) / 2,
        x0: xEdges[j], x1: xEdges[j + 1],
        y0: yEdges[i], y1: yEdges[i + 1],
        v: v,
      });
    });
  });
  return cells;
}

// fills the cells of the first dataset, with the black mesh over them
const cellPlugin = {
  id: "cellPlugin",
  afterDatasetsDraw(chart, args, opts) {
    let ctx = chart.ctx;
    let xs = chart.scales.x;
    let ys = chart.scales.y;
    ctx.save();
    chart.data.datasets[0].data.forEach((c) => {
      let l = Math.round(xs.getPixelForValue(c.x0));
      let r = Math.round(xs.getPixelForValue(c.x1));
      let t = Math.round(ys.getPixelForValue(c.y0));
      let b = Math.round(ys.getPixelForValue(c.y1));
      ctx.fillStyle = jet(c.v);
      ctx.fillRect(l, t, r - l, b - t);
    });
    if (opts.mesh) {
      let left = xs.getPixelForValue(eEdges[0]);
      let right = xs.getPixelForValue(eEdges[eEdges.length - 1]);
      let top = ys.getPixelForValue(iEdges[0]);
      let bottom = ys.getPixelForValue(0);
      ctx.strokeStyle = "#050505";
      ctx.lineWidth = 1.15;
      ctx.beginPath();
      eEdges.slice(1, -1).forEach((e) => {
        let p = xs.getPixelForValue(e);
        ctx.moveTo(p, top);
        ctx.lineTo(p, bottom);
      });
      iEdges.slice(1).forEach((e) => {
        let p = ys.getPixelForValue(e);
        ctx.moveTo(left, p);
        ctx.lineTo(right, p);
      });
      ctx.stroke();
      // heavy bottom edge, gray top and right edge
      ctx.fillStyle = "#000";
      ctx.fillRect(left, bottom - 2, right - left, 3);
      ctx.strokeStyle = "#555";
      ctx.lineWidth = 1;
      ctx.beginPath();
      ctx.moveTo(left, top);
      ctx.lineTo(right, top);
      ctx.lineTo(right, bottom);
      ctx.stroke();
      // axis stub and inward y ticks
      ctx.strokeStyle = "#111";
      ctx.lineWidth = 1.2;
      ctx.beginPath();
      ctx.moveTo(xs.left + 1, top);
      ctx.lineTo(left, top);
      ctx.moveTo(xs.left + 2, bottom - 5);
      ctx.lineTo(xs.left + 2, bottom - 1);
      ys.ticks.forEach((tk) => {
        if (tk.value > 0 && tk.value < 3) {
          let p = ys.getPixelForValue(tk.value);
          ctx.moveTo(xs.left + 1, p);
          ctx.lineTo(xs.left + 5, p);
        }
      });
      ctx.stroke();
    }
    if (opts.barFrame) {
      ctx.strokeStyle = "#111";
      ctx.lineWidth = 1.2;
      ctx.strokeRect(xs.left, ys.top, xs.right - xs.left, ys.bottom - ys.top);
      ctx.beginPath();
      ys.ticks.forEach((tk) => {
        let p = ys.getPixelForValue(tk.value);
        ctx.moveTo(xs.left, p);
        ctx.lineTo(xs.left + 3, p);
        ctx.moveTo(xs.right - 3, p);
        ctx.lineTo(xs.right, p);
      });
      ctx.stroke();
    }
    ctx.restore();
  },
};

// gray box with inward ticks on all four sides
const framePlugin = {
  id: "framePlugin",
  beforeDatasetsDraw(chart, args, opts) {
    if (!opts.on) return;
    let ctx = chart.ctx;
    let xs = chart.scales.x;
    let ys = chart.scales.y;
    ctx.save();
    ctx.strokeStyle = "#777";
    ctx.lineWidth = 1.6;
    ctx.strokeRect(xs.left, ys.top, xs.right - xs.left, ys.bottom - ys.top);
    ctx.lineWidth = 1;
    ctx.beginPath();
    xs.ticks.forEach((tk) => {
      let p = xs.getPixelForValue(tk.value);
      ctx.moveTo(p, ys.bottom);
      ctx.lineTo(p, ys.bottom - 4);
      ctx.moveTo(p, ys.top);
      ctx.lineTo(p, ys.top + 4);
    });
    ys.ticks.forEach((tk) => {
      let p = ys.getPixelForValue(tk.value);
      ctx.moveTo(xs.left, p);
      ctx.lineTo(xs.left + 4, p);
      ctx.moveTo(xs.right, p);
      ctx.lineTo(xs.right - 4, p);
    });
    ctx.stroke();
    ctx.restore();
  },
};

// puts the canvas so that the plot area lands on the box given
function place(id, box) {
  let canvas = document.getElementById(id);
  let w = box.r - box.l + box.padL + box.padR;
  let h = box.b - box.t + box.padT + box.padB;
  canvas.width = w;
  canvas.height = h;
  canvas.style.left = (box.l - box.padL) + "px";
  canvas.style.top = (box.t - box.padT) + "px";
  canvas.style.width = w + "px";
  canvas.style.height = h + "px";
  return canvas;
}

function fitAxis(size) {
  return (scale) => {
    if (scale.isHorizontal()) {
      scale.height = size;
    } else {
      scale.width = size;
    }
    scale.paddingLeft = 0;
    scale.paddingRight = 0;
    scale.paddingTop = 0;
    scale.paddingBottom = 0;
  };
}

function baseOptions(box, xAxis, yAxis, plugins) {
  return {
    responsive: false,
    animation: false,
    events: [],
    layout: { padding: { top: box.padT, right: box.padR, left: 0, bottom: 0 } },
    scales: { x: xAxis, y: yAxis },
    plugins: Object.assign({ legend: { display: false }, tooltip: { enabled: false } }, plugins),
  };
}

function axis(type, ticksList, min, max, size, font, color, padding) {
  return {
    type: "linear",
    position: type,
    min: min,
    max: max,
    afterFit: fitAxis(size),
    afterBuildTicks: (scale) => { scale.ticks = ticksList.map((v) => ({ value: v })); },
    grid: { display: false, drawTicks: false },
    border: { display: false },
    ticks: {
      autoSkip: false,
      maxRotation: 0,
      minRotation: 0,
      padding: padding,
      color: color,
      font: font,
      callback: (v) => String(v),
    },
  };
}

const mapFont = { family: "Liberation Sans", size: 18 };
const smallFont = { family: "Liberation Sans", size: 11.5 };

function plotMap(id, box, rows) {
  let canvas = place(id, box);
  new Chart(canvas, {
    type: "scatter",
    data: { datasets: [{ data: buildCells(eEdges, iEdges, rows), pointRadius: 0 }] },
    options: baseOptions(
      box,
      axis("bottom", mapETicks, 0, 2, box.padB, mapFont, "#222", 8),
      axis("left", mapITicks, 0, 3, box.padL, mapFont, "#222", 6),
      { cellPlugin: { mesh: true } }
    ),
    plugins: [cellPlugin],
  });
}

function plotBar(id, box) {
  let canvas = place(id, box);
  canvas.style.left = box.l + "px";
  canvas.width = box.r - box.l + box.padR;
  canvas.style.width = canvas.width + "px";
  let options = baseOptions(
    box,
    { type: "linear", min: 0, max: 1, display: false },
    axis("right", barTicks, 20, 70, box.padR, mapFont, "#222", 5),
    { cellPlugin: { barFrame: true } }
  );
  options.layout.padding = { top: box.padT, right: 0, left: 0, bottom: box.padB };
  new Chart(canvas, {
    type: "scatter",
    data: { datasets: [{ data: buildCells([0, 1], barEdges, barLevels.map((v) => [v])), pointRadius: 0 }] },
    options: options,
    plugins: [cellPlugin],
  });
}

function plotTraces(id, box, blue, red) {
  let canvas = place(id, box);
  let asPoints = (list) => list.map((p) => ({ x: p[0], y: p[1] }));
  new Chart(canvas, {
    type: "scatter",
    data: {
      datasets: [
        { data: asPoints(blue), showLine: true, borderColor: "#0a14e6", borderWidth: 3, pointRadius: 0, tension: 0 },
        { data: asPoints(red), showLine: true, borderColor: "#f01414", borderWidth: 2.5, pointRadius: 0, tension: 0 },
      ],
    },
    options: baseOptions(
      box,
      axis("bottom", traceXTicks, 500, 1000, box.padB, smallFont, "#666", 2),
      axis("left", valueTicks, -3000, 500, box.padL, smallFont, "#666", 4),
      { framePlugin: { on: true } }
    ),
    plugins: [framePlugin],
  });
}

function plotScatter(id, box, points) {
  let canvas = place(id, box);
  new Chart(canvas, {
    type: "scatter",
    data: {
      datasets: [{
        data: points.map((p) => ({ x: p[0], y: p[1] })),
        backgroundColor: "#0808e0",
        borderWidth: 0,
        pointRadius: 1.7,
        clip: false,
      }],
    },
    options: baseOptions(
      box,
      axis("bottom", scatterXTicks, 0, 500, box.padB, smallFont, "#666", 2),
      axis("left", scatterYTicks, -3000, 0, box.padL, smallFont, "#666", 4),
      { framePlugin: { on: true } }
    ),
    plugins: [framePlugin],
  });
}

plotMap("chartA", { l: 75, t: 74.5, r: 497, b: 290.5, padL: 40, padT: 12, padR: 18, padB: 32 }, originalMap);
plotMap("chartB", { l: 595, t: 74.5, r: 1016, b: 290.5, padL: 40, padT: 12, padR: 18, padB: 32 }, modifiedMap);
plotBar("chartBar", { l: 1082, t: 74, r: 1115, b: 291.5, padL: 0, padT: 12, padR: 40, padB: 12 });
plotTraces("chartC", { l: 110, t: 394, r: 507, b: 603, padL: 42, padT: 8, padR: 2, padB: 20 }, originalBlue, originalRed);
plotTraces("chartD", { l: 635, t: 394, r: 1032, b: 603, padL: 42, padT: 8, padR: 8, padB: 20 }, modifiedBlue, modifiedRed);
plotScatter("chartE", { l: 110, t: 684, r: 507, b: 892, padL: 42, padT: 8, padR: 2, padB: 20 }, originalScatter.concat(originalBands));
plotScatter("chartF", { l: 635, t: 684, r: 1032, b: 892, padL: 42, padT: 8, padR: 8, padB: 20 }, modifiedScatter.concat(modifiedCluster));
</script>
</body>
</html>
